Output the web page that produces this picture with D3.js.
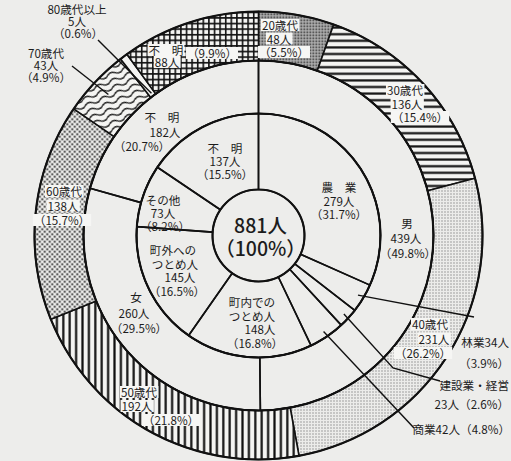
<!DOCTYPE html>
<html><head><meta charset="utf-8">
<script src="https://cdn.jsdelivr.net/npm/d3@7"></script>
<style>
html,body{margin:0;padding:0;background:#ededeb;overflow:hidden;}
svg{display:block;}
text{font-family:"Noto Sans CJK JP","Noto Sans",sans-serif;fill:#1c1c1c;}
</style></head><body>
<svg id="c" width="511" height="461"></svg>
<script>
// ---------- data ----------
const totalLabel = ["881人", "（100%）"];

const occupationNames  = ["農　業", "林業", "建設業・経営", "商業", "町内での\nつとめ人", "町外への\nつとめ人", "その他", "不　明"];
const occupationValues = [279, 34, 23, 42, 148, 145, 73, 137];
const occupationPcts   = ["31.7", "3.9", "2.6", "4.8", "16.8", "16.5", "8.2", "15.5"];

const genderNames  = ["男", "女", "不　明"];
const genderValues = [439, 260, 182];
const genderPcts   = ["49.8", "29.5", "20.7"];

const ageNames  = ["20歳代", "30歳代", "40歳代", "50歳代", "60歳代", "70歳代", "80歳代以上", "不　明"];
const ageValues = [48, 136, 231, 192, 138, 43, 5, 88];
const agePcts   = ["5.5", "15.4", "26.2", "21.8", "15.7", "4.9", "0.6", "9.9"];

// ---------- layout ----------
const W = 511, H = 461, cx = 258.5, cy = 235.5;
const R0 = 46, R1 = 122, R2 = 175, R3 = 224;
const FS = 11.6;

const svg = d3.select("#c");
const defs = svg.append("defs");

// patterns
function pat(id, w, h, draw, tr) {
  const p = defs.append("pattern").attr("id", id).attr("patternUnits", "userSpaceOnUse")
    .attr("width", w).attr("height", h);
  if (tr) p.attr("patternTransform", tr);
  draw(p);
}
pat("p20", 3, 3, p => {
  p.append("rect").attr("width", 3).attr("height", 3).attr("fill", "#b8b8b8");
  p.append("rect").attr("width", 1.6).attr("height", 1.6).attr("fill", "#222");
});
pat("p30", 10, 6.6, p => {
  p.append("rect").attr("width", 10).attr("height", 6.6).attr("fill", "#f4f4f2");
  p.append("line").attr("x1", 0).attr("x2", 10).attr("y1", 3.3).attr("y2", 3.3).attr("stroke", "#111").attr("stroke-width", 2.2);
});
pat("p40", 3, 3, p => {
  p.append("rect").attr("width", 3).attr("height", 3).attr("fill", "#ececea");
  p.append("rect").attr("width", 1).attr("height", 1).attr("fill", "#555");
});
pat("p50", 6.4, 10, p => {
  p.append("rect").attr("width", 6.4).attr("height", 10).attr("fill", "#f4f4f2");
  p.append("line").attr("y1", 0).attr("y2", 10).attr("x1", 3.2).attr("x2", 3.2).attr("stroke", "#111").attr("stroke-width", 2.2);
});
pat("p60", 5, 5, p => {
  p.append("rect").attr("width", 5).attr("height", 5).attr("fill", "#f0f0ee");
  p.append("circle").attr("cx", 1.25).attr("cy", 1.25).attr("r", 1.1).attr("fill", "#1a1a1a");
  p.append("circle").attr("cx", 3.75).attr("cy", 3.75).attr("r", 1.1).attr("fill", "#1a1a1a");
});
pat("p70", 16, 6.5, p => {
  p.append("rect").attr("width", 16).attr("height", 6.5).attr("fill", "#f4f4f2");
  p.append("path").attr("d", "M0,3.25 Q4,0 8,3.25 T16,3.25").attr("fill", "none").attr("stroke", "#111").attr("stroke-width", 1.3);
}, "rotate(-22)");
pat("pna", 5.6, 5.6, p => {
  p.append("rect").attr("width", 5.6).attr("height", 5.6).attr("fill", "#f4f4f2");
  p.append("path").attr("d", "M0,0.8H5.6M0.8,0V5.6").attr("stroke", "#111").attr("stroke-width", 1.6);
});
const ageFills = ["url(#p20)", "url(#p30)", "url(#p40)", "url(#p50)", "url(#p60)", "url(#p70)", "#f4f4f2", "url(#pna)"];

const pie = d3.pie().sort(null).value(d => d);
const occArcs = pie(occupationValues);
const genArcs = pie(genderValues);
const ageArcs = pie(ageValues);

const g = svg.append("g").attr("transform", `translate(${cx},${cy})`);
function ring(arcs, r0, r1, fills) {
  const a = d3.arc().innerRadius(r0).outerRadius(r1);
  g.append("g").selectAll("path").data(arcs).join("path")
    .attr("d", a)
    .attr("fill", (d, i) => fills ? fills[i] : "none")
    .attr("stroke", "#111").attr("stroke-width", 1.6).attr("stroke-linejoin", "round");
}
ring(ageArcs, R2, R3, ageFills);
ring(genArcs, R1, R2, null);
ring(occArcs, R0, R1, null);
[R0, R1, R2, R3].forEach(r => g.append("circle").attr("r", r).attr("fill", "none").attr("stroke", "#111").attr("stroke-width", 2.1));

// polar helper (absolute coords)
const mid = d => (d.startAngle + d.endAngle) / 2;
const polar = (r, a) => [cx + r * Math.sin(a), cy - r * Math.cos(a)];

// leader lines
const leaders = svg.append("g").attr("stroke", "#111").attr("stroke-width", 1.4).attr("fill", "none");
const line = d3.line();
const occLeaderEnds = { 1: [[474, 317]], 2: [[393, 368], [440, 381]], 3: [[414, 428]] };
Object.entries(occLeaderEnds).forEach(([i, pts]) => {
  leaders.append("path").attr("d", line([polar(116, mid(occArcs[i]))].concat(pts)));
});
leaders.append("path").attr("d", line([[98, 40], polar(178, mid(ageArcs[6]))]));
leaders.append("path").attr("d", line([[72, 66], polar(206, mid(ageArcs[5]))]));

// text
const tg = svg.append("g");
function lines(items, box) {
  items.forEach(([t, x, y, anchor]) => {
    const el = tg.append("text").attr("x", x).attr("y", y)
      .attr("text-anchor", anchor || "middle").attr("dominant-baseline", "central")
      .attr("font-size", FS).text(t);
    if (box) {
      const b = el.node().getBBox();
      tg.insert("rect", () => el.node())
        .attr("x", b.x - 1).attr("y", b.y + 2).attr("width", b.width + 2).attr("height", b.height - 4)
        .attr("fill", "#f6f6f4");
    }
  });
}
const N = v => v + "人", P = p => "（" + p + "%）";
const nameLines = s => s.split("\n");

// center
tg.append("text").attr("x", cx + 2).attr("y", cy - 11).attr("text-anchor", "middle").attr("dominant-baseline", "central")
  .attr("font-size", 19.5).attr("font-weight", 500).text(totalLabel[0]);
tg.append("text").attr("x", cx + 2).attr("y", cy + 12).attr("text-anchor", "middle").attr("dominant-baseline", "central")
  .attr("font-size", 19.5).attr("font-weight", 500).text(totalLabel[1]);

// occupation labels
const ol = i => nameLines(occupationNames[i]).concat([N(occupationValues[i]), P(occupationPcts[i])]);
const stack = (arr, xs, y0, dy) => arr.map((t, k) => [t, Array.isArray(xs) ? xs[k] : xs, y0 + k * dy]);
lines(stack(ol(0), 339, 187, 13.5));
lines(stack(ol(7), 225, 148, 13));
lines(stack(ol(6), [163, 163, 165], 200, 13));
lines(stack(ol(5), [173, 175, 180, 177], 250, 13.7));
lines(stack(ol(4), [252, 252, 260, 255], 302, 13.7));
lines([[occupationNames[1] + N(occupationValues[1]), 509, 342, "end"], [P(occupationPcts[1]), 509, 363, "end"]]);
lines([[occupationNames[2], 509, 385, "end"], [N(occupationValues[2]) + P(occupationPcts[2]), 509, 404, "end"]]);
lines([[occupationNames[3] + N(occupationValues[3]) + P(occupationPcts[3]), 510, 429, "end"]]);

// gender labels
const gl = i => [genderNames[i], N(genderValues[i]), P(genderPcts[i])];
lines(stack(gl(0), [407, 406, 408], 223, 15));
lines(stack(gl(1), [136, 134, 139], 297, 15.5));
lines(stack(gl(2), [162, 165, 142], 117, 14.5));

// age labels
const al = i => [ageNames[i], N(ageValues[i]), P(agePcts[i])];
lines(stack(al(0), [280, 279, 284], 25, 13.5), true);
lines(stack(al(1), [405, 407, 420], 90, 13.5), true);
lines(stack(al(2), [430, 434, 423], 324, 14.5), true);
lines(stack(al(3), [139, 137, 171], 392, 14), true);
lines(stack(al(4), [64, 63, 62], 191, 14.5), true);
lines(stack(al(5), [46, 46, 46], 53, 11.8));
lines(stack(al(6), [77, 77, 78], 8.5, 12));
lines([[ageNames[7], 166, 50], [N(ageValues[7]), 167, 62]], true);
lines([[P(agePcts[7]), 212, 53]], true);
</script>
</body></html>
